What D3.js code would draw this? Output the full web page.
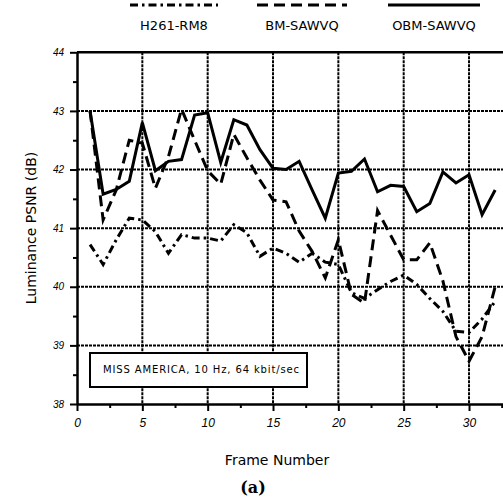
<!DOCTYPE html>
<html>
<head>
<meta charset="utf-8">
<script src="https://cdn.jsdelivr.net/npm/d3@7"></script>
<style>
  body { margin: 0; background: #fff; }
  svg { font-family: 'DejaVu Sans', sans-serif; }
</style>
</head>
<body>
<svg id="chart"></svg>
<script>
const frames = d3.range(1, 33);
const h261Rm8 = [40.72, 40.38, 40.8, 41.17, 41.14, 40.94, 40.57, 40.89, 40.83, 40.83, 40.78,
  41.06, 40.92, 40.52, 40.66, 40.57, 40.42, 40.57, 40.42, 40.38, 39.9, 39.8, 39.95, 40.09,
  40.2, 40.04, 39.8, 39.58, 39.24, 39.22, 39.45, 39.75];
const bmSawvq = [43.0, 41.14, 41.65, 42.5, 42.45, 41.68, 42.22, 43.03, 42.5, 41.98, 41.75,
  42.6, 42.2, 41.82, 41.48, 41.45, 40.95, 40.6, 40.15, 40.8, 39.87, 39.72, 41.3, 40.88,
  40.46, 40.46, 40.75, 40.1, 39.15, 38.73, 39.15, 40.0];
const obmSawvq = [43.0, 41.58, 41.66, 41.8, 42.8, 41.98, 42.14, 42.17, 42.93, 42.97, 42.12,
  42.85, 42.76, 42.34, 42.02, 42.0, 42.14, 41.65, 41.17, 41.94, 41.97, 42.18, 41.62, 41.73,
  41.71, 41.28, 41.42, 41.96, 41.77, 41.91, 41.23, 41.65];
const seriesNames = ['H261-RM8', 'BM-SAWVQ', 'OBM-SAWVQ'];
const xTicks = [0, 5, 10, 15, 20, 25, 30];
const yTicks = [38, 39, 40, 41, 42, 43, 44];
const noteText = 'MISS AMERICA, 10 Hz, 64 kbit/sec';

const width = 503, height = 500;
const svg = d3.select('#chart').attr('width', width).attr('height', height);

const x = d3.scaleLinear().domain([0, 32.6]).range([77, 503]);
const y = d3.scaleLinear().domain([38, 44]).range([404, 52.3]);

// grid
const grid = svg.append('g');
grid.selectAll('.vg').data(xTicks.filter(d => d > 0))
  .enter().append('line')
  .attr('x1', d => x(d)).attr('x2', d => x(d))
  .attr('y1', y(44)).attr('y2', y(38))
  .attr('stroke', '#000').attr('stroke-width', 2).attr('stroke-dasharray', '3,1');
grid.selectAll('.hg').data(yTicks.filter(d => d > 38 && d < 44))
  .enter().append('line')
  .attr('x1', x(0)).attr('x2', width)
  .attr('y1', d => y(d)).attr('y2', d => y(d))
  .attr('stroke', '#000').attr('stroke-width', 2).attr('stroke-dasharray', '3,1');

// top border
svg.append('line')
  .attr('x1', x(0)).attr('x2', width)
  .attr('y1', y(44)).attr('y2', y(44))
  .attr('stroke', '#000').attr('stroke-width', 2.5);

// axes
const styleAxis = g => {
  g.select('.domain').attr('stroke-width', 2.5);
  g.selectAll('.tick line').attr('stroke-width', 2);
};

svg.append('g')
  .attr('transform', `translate(${x(0)},0)`)
  .call(d3.axisLeft(y).tickValues(d3.range(38.5, 44, 1)).tickSize(4).tickFormat(''))
  .call(g => g.select('.domain').remove())
  .selectAll('line').attr('stroke-width', 2);

svg.append('g')
  .attr('transform', `translate(${x(0)},0)`)
  .call(d3.axisLeft(y).tickValues(yTicks).tickFormat(d3.format('d'))
    .tickSize(7).tickSizeOuter(0).tickPadding(6))
  .call(styleAxis)
  .call(g => g.selectAll('text').attr('font-size', 10).attr('font-style', 'italic'));

svg.append('g')
  .attr('transform', `translate(0,${y(38)})`)
  .call(d3.axisBottom(x).tickValues(d3.range(2.5, 33, 5)).tickSize(4).tickFormat(''))
  .call(g => g.select('.domain').remove())
  .selectAll('line').attr('stroke-width', 2);

svg.append('g')
  .attr('transform', `translate(0,${y(38)})`)
  .call(d3.axisBottom(x).tickValues(xTicks).tickFormat(d3.format('d'))
    .tickSize(7).tickSizeOuter(0).tickPadding(7))
  .call(styleAxis)
  .call(g => g.selectAll('text').attr('font-size', 12).attr('font-style', 'italic'));

// series
const dashes = ['8,4,2.5,4', '11,6', null];
const allSeries = [h261Rm8, bmSawvq, obmSawvq];
const line = d3.line().x((d, i) => x(frames[i])).y(d => y(d));

svg.append('g').selectAll('path').data(allSeries)
  .enter().append('path')
  .attr('d', line)
  .attr('fill', 'none')
  .attr('stroke', '#000')
  .attr('stroke-width', 3)
  .attr('stroke-linejoin', 'miter')
  .attr('stroke-dasharray', (d, i) => dashes[i]);

// legend
const legendX = [[130, 218], [257, 347], [388, 480]];
const legend = svg.append('g');
seriesNames.forEach((name, i) => {
  legend.append('line')
    .attr('x1', legendX[i][0]).attr('x2', legendX[i][1])
    .attr('y1', 5).attr('y2', 5)
    .attr('stroke', '#000').attr('stroke-width', 3)
    .attr('stroke-dasharray', dashes[i]);
  legend.append('text')
    .attr('x', (legendX[i][0] + legendX[i][1]) / 2)
    .attr('y', 30)
    .attr('text-anchor', 'middle')
    .attr('font-size', 13)
    .text(name);
});

// note box
svg.append('rect')
  .attr('x', 90).attr('y', 353).attr('width', 217).attr('height', 34)
  .attr('fill', '#fff').attr('stroke', '#000').attr('stroke-width', 2);
svg.append('text')
  .attr('x', 103).attr('y', 373)
  .attr('font-size', 10)
  .attr('textLength', 196)
  .text(noteText);

// axis titles
svg.append('text')
  .attr('transform', 'translate(36,228) rotate(-90)')
  .attr('text-anchor', 'middle')
  .attr('font-size', 14)
  .text('Luminance PSNR (dB)');

svg.append('text')
  .attr('x', 277).attr('y', 465)
  .attr('text-anchor', 'middle')
  .attr('font-size', 14)
  .text('Frame Number');

svg.append('text')
  .attr('x', 253).attr('y', 493)
  .attr('text-anchor', 'middle')
  .attr('font-family', 'DejaVu Serif, serif')
  .attr('font-weight', 'bold')
  .attr('font-size', 16)
  .text('(a)');
</script>
</body>
</html>
